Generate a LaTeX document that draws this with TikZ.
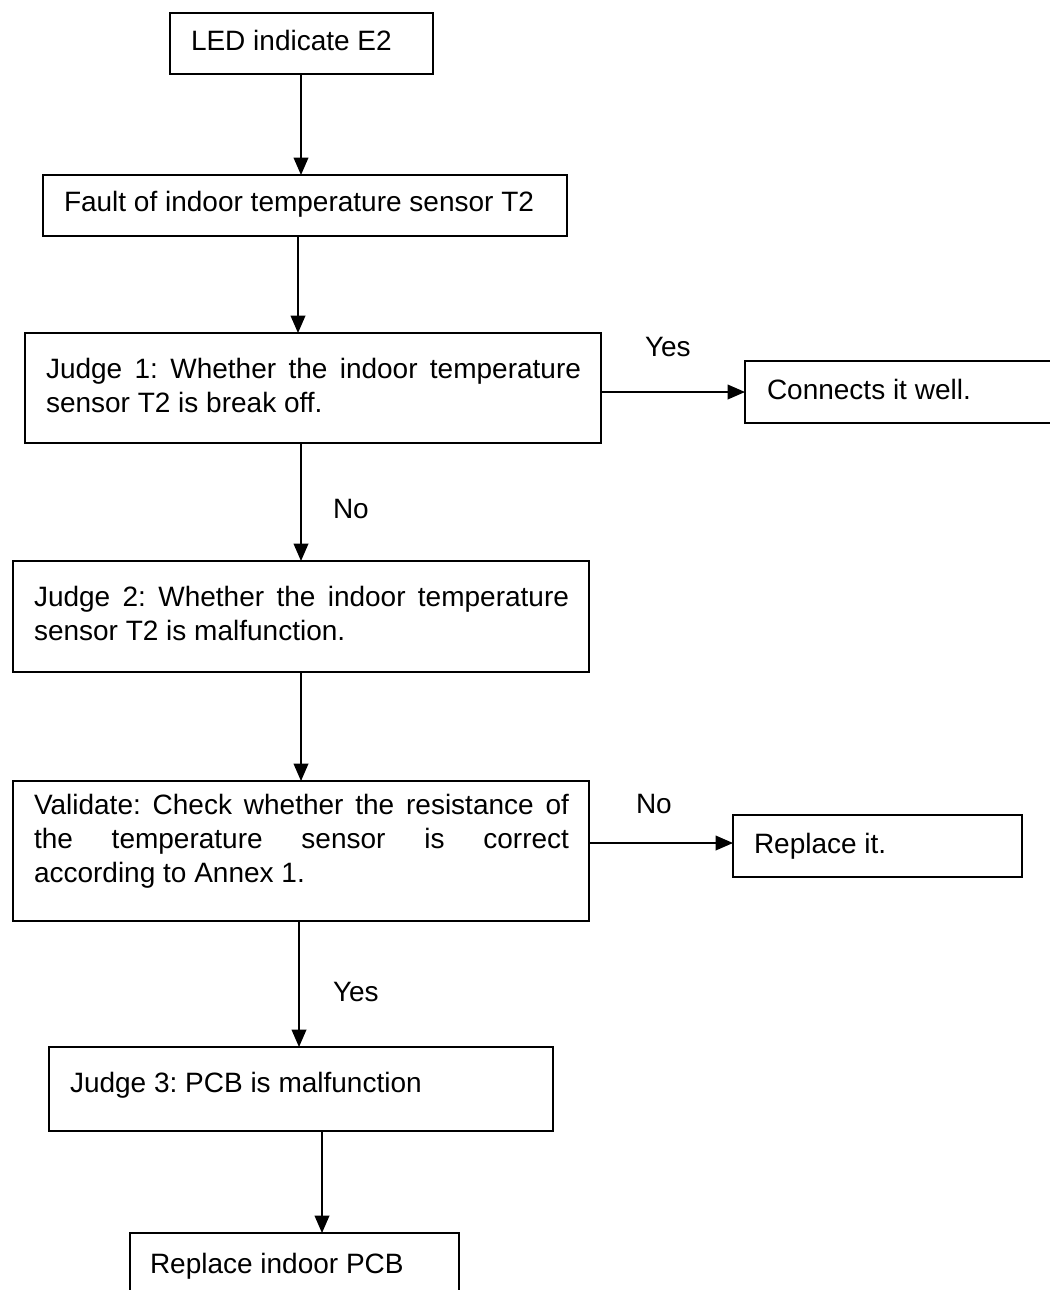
\documentclass[tikz,border=0pt]{standalone}
\usepackage{fontspec}
\setmainfont{Liberation Sans}
\usetikzlibrary{arrows.meta}
\tikzset{
  box/.style={draw, line width=1.3pt, rectangle, inner sep=0pt, outer sep=0pt, anchor=north west},
  txt/.style={anchor=base west, inner sep=0pt, outer sep=0pt, font=\fontsize{21pt}{25.5pt}\selectfont},
  arr/.style={draw, line width=1.1pt, -{Triangle[length=13pt,width=11pt]}},
}
\newcommand{\bx}[5]{\node[box, minimum width={(#4-#2)*0.75pt}, minimum height={(#5-#3)*0.75pt}] (#1) at (#2,#3) {};}
\newcommand{\jline}[1]{\makebox[401.25pt][s]{#1}}
\frenchspacing
\begin{document}
\begin{tikzpicture}[x=0.75pt,y=-0.75pt]
\clip (0,0) rectangle (1050,1290);
\fill[white] (0,0) rectangle (1050,1290);
% boxes
\bx{led}{170}{13}{433}{74}
\bx{fault}{43}{175}{567}{236}
\bx{jone}{25}{333}{601}{443}
\bx{conn}{745}{361}{1062}{423}
\bx{jtwo}{13}{561}{589}{672}
\bx{valid}{13}{781}{589}{921}
\bx{repl}{733}{815}{1022}{877}
\bx{jthree}{49}{1047}{553}{1131}
\bx{pcb}{130}{1233}{459}{1300}
% texts
\node[txt] (tled) at (191,50) {LED indicate E2};
\node[txt] (tfault) at (64,211) {Fault of indoor temperature sensor T2};
\node[txt] (tjonea) at (46,378) {\jline{Judge 1: Whether the indoor temperature}};
\node[txt] (tjoneb) at (46,412) {sensor T2 is break off.};
\node[txt] (tconn) at (767,399) {Connects it well.};
\node[txt] (tjtwoa) at (34,606) {\jline{Judge 2: Whether the indoor temperature}};
\node[txt] (tjtwob) at (34,640) {sensor T2 is malfunction.};
\node[txt] (tvala) at (34,814) {\jline{Validate: Check whether the resistance of}};
\node[txt] (tvalb) at (34,848) {\jline{the temperature sensor is correct}};
\node[txt] (tvalc) at (34,882) {according to Annex 1.};
\node[txt] (trepl) at (754,853) {Replace it.};
\node[txt] (tjthree) at (70,1092) {Judge 3: PCB is malfunction};
\node[txt] (tpcb) at (150,1273) {Replace indoor PCB};
% labels
\node[txt] (lyesa) at (645,356) {Yes};
\node[txt] (lnoa) at (333,518) {No};
\node[txt] (lnob) at (636,813) {No};
\node[txt] (lyesb) at (333,1001) {Yes};
% connector x positions
\coordinate (xa) at (301,0);
\coordinate (xb) at (298,0);
\coordinate (xc) at (301,0);
\coordinate (xd) at (301,0);
\coordinate (xe) at (299,0);
\coordinate (xf) at (322,0);
\coordinate (ya) at (0,392);
\coordinate (yb) at (0,843);
% connectors
\draw[arr] (led.south -| xa) -- (fault.north -| xa);
\draw[arr] (fault.south -| xb) -- (jone.north -| xb);
\draw[arr] (jone.south -| xc) -- (jtwo.north -| xc);
\draw[arr] (jtwo.south -| xd) -- (valid.north -| xd);
\draw[arr] (valid.south -| xe) -- (jthree.north -| xe);
\draw[arr] (jthree.south -| xf) -- (pcb.north -| xf);
\draw[arr] (jone.east |- ya) -- (conn.west |- ya);
\draw[arr] (valid.east |- yb) -- (repl.west |- yb);
\end{tikzpicture}
\end{document}
